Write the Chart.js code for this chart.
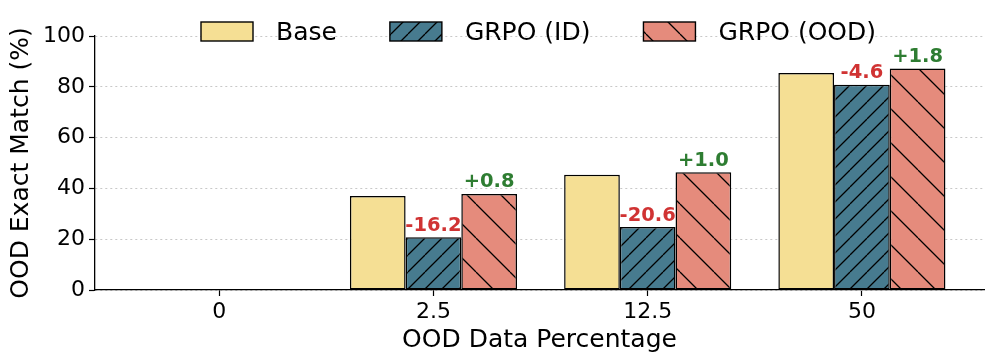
<!DOCTYPE html>
<html>
<head>
<meta charset="utf-8">
<script src="https://cdn.jsdelivr.net/npm/chart.js@4.4.1/dist/chart.umd.min.js"></script>
<style>
  html, body { margin: 0; padding: 0; background: #fff; }
  canvas { display: block; }
</style>
</head>
<body>
<canvas id="chart" width="997" height="364"></canvas>
<script>
// OOD data percentage groups
const categories = ["0", "2.5", "12.5", "50"];
const seriesNames = ["Base", "GRPO (ID)", "GRPO (OOD)"];
const baseScores = [0, 37.0, 45.4, 85.4];
const grpoIdScores = [0, 20.8, 24.8, 80.8];
const grpoOodScores = [0, 37.8, 46.4, 87.2];
const yTicks = [0, 20, 40, 60, 80, 100];

const FONT = "'DejaVu Sans', sans-serif";

// diagonal hatch fill, like matplotlib's "/" and "\"
function hatch(bg, spacing, dir) {
  const c = document.createElement("canvas");
  c.width = spacing;
  c.height = spacing;
  const g = c.getContext("2d");
  g.fillStyle = bg;
  g.fillRect(0, 0, spacing, spacing);
  g.strokeStyle = "#000";
  g.lineWidth = 1.3;
  g.beginPath();
  for (let k = -1; k <= 1; k++) {
    if (dir === "/") {
      g.moveTo(k * spacing, spacing);
      g.lineTo(k * spacing + spacing, 0);
    } else {
      g.moveTo(k * spacing, 0);
      g.lineTo(k * spacing + spacing, spacing);
    }
  }
  g.stroke();
  return g.createPattern(c, "repeat");
}

const toPoints = arr => arr.map((v, i) => ({ x: i, y: v }));

// +/- difference vs Base above the GRPO bars
const diffLabels = {
  id: "diffLabels",
  afterDatasetsDraw(chart) {
    const ctx = chart.ctx;
    ctx.save();
    ctx.font = "bold 19.5px " + FONT;
    ctx.textAlign = "center";
    ctx.textBaseline = "alphabetic";
    [1, 2].forEach(di => {
      const vals = di === 1 ? grpoIdScores : grpoOodScores;
      chart.getDatasetMeta(di).data.forEach((bar, i) => {
        if (!baseScores[i]) return;
        const d = Math.round((vals[i] - baseScores[i]) * 10) / 10;
        ctx.fillStyle = d < 0 ? "#D03333" : "#2E7D32";
        ctx.fillText((d < 0 ? "-" : "+") + Math.abs(d).toFixed(1), bar.x, bar.y - 6.5);
      });
    });
    ctx.restore();
  }
};

// legend drawn inside the plot, across the top
const topLegend = {
  id: "topLegend",
  afterDraw(chart) {
    const ctx = chart.ctx;
    ctx.save();
    ctx.font = "25px " + FONT;
    let x = chart.chartArea.left + 106;
    chart.data.datasets.forEach(ds => {
      ctx.fillStyle = ds.backgroundColor;
      ctx.fillRect(x, 22, 52, 19);
      ctx.strokeStyle = "#000";
      ctx.lineWidth = 1.4;
      ctx.strokeRect(x, 22, 52, 19);
      ctx.fillStyle = "#000";
      ctx.textAlign = "left";
      ctx.textBaseline = "alphabetic";
      ctx.fillText(ds.label, x + 75, 40.3);
      x += 75 + ctx.measureText(ds.label).width + 53;
    });
    ctx.restore();
  }
};

const tickFont = { family: FONT, size: 22 };
const titleFont = { family: FONT, size: 25 };

new Chart(document.getElementById("chart"), {
  type: "bar",
  data: {
    datasets: [
      {
        label: seriesNames[0],
        data: toPoints(baseScores),
        backgroundColor: "#F5DF94",
        borderColor: "#000",
        borderWidth: 1.5,
        borderSkipped: false
      },
      {
        label: seriesNames[1],
        data: toPoints(grpoIdScores),
        backgroundColor: hatch("#477B8F", 17, "/"),
        borderColor: "#000",
        borderWidth: 1.5,
        borderSkipped: false
      },
      {
        label: seriesNames[2],
        data: toPoints(grpoOodScores),
        backgroundColor: hatch("#E58B7C", 34, "\\"),
        borderColor: "#000",
        borderWidth: 1.5,
        borderSkipped: false
      }
    ]
  },
  options: {
    responsive: false,
    devicePixelRatio: 1,
    animation: false,
    categoryPercentage: 0.78,
    barPercentage: 1.0,
    layout: { padding: { left: 0, top: 36, right: 13, bottom: 0 } },
    plugins: { legend: { display: false }, tooltip: { enabled: false } },
    scales: {
      x: {
        type: "linear",
        min: -0.58,
        max: 3.57,
        offset: false,
        afterBuildTicks: s => { s.ticks = categories.map((_, i) => ({ value: i })); },
        afterFit: s => { s.height = 74; },
        ticks: {
          callback: v => categories[v] ?? "",
          font: tickFont,
          color: "#000",
          padding: 3,
          autoSkip: false,
          maxRotation: 0
        },
        grid: { offset: false, drawOnChartArea: false, tickLength: 6, tickColor: "#000", tickWidth: 1.2 },
        border: { color: "#000", width: 1.3 },
        title: {
          display: true,
          text: "OOD Data Percentage",
          font: titleFont,
          color: "#000",
          padding: { top: 0, bottom: 9 }
        }
      },
      y: {
        min: 0,
        max: 100,
        afterBuildTicks: s => { s.ticks = yTicks.map(v => ({ value: v })); },
        afterFit: s => { s.width = 95; },
        ticks: { font: tickFont, color: "#000", padding: 4 },
        grid: {
          color: "#c8c8c8",
          lineWidth: 1,
          tickLength: 6,
          tickColor: "#000",
          tickWidth: 1.2,
          tickBorderDash: []
        },
        border: { color: "#000", width: 1.3, dash: [2, 3] },
        title: {
          display: true,
          text: "OOD Exact Match (%)",
          font: titleFont,
          color: "#000",
          padding: { top: 6, bottom: 0 }
        }
      }
    }
  },
  plugins: [diffLabels, topLegend]
});
</script>
</body>
</html>
